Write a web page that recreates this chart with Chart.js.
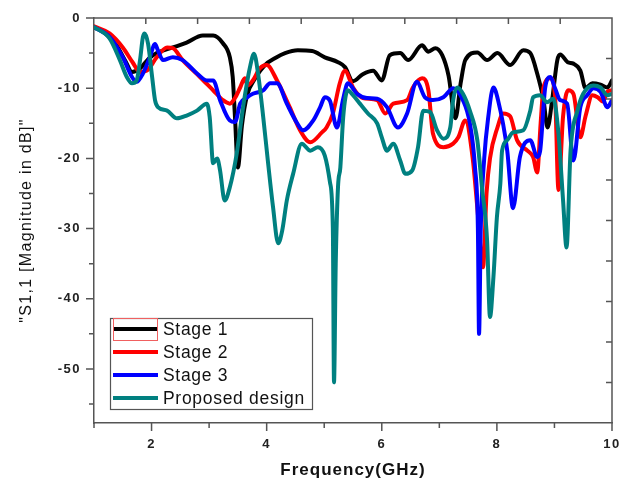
<!DOCTYPE html>
<html><head><meta charset="utf-8">
<script src="https://cdn.jsdelivr.net/npm/chart.js@4/dist/chart.umd.min.js"></script>
<style>html,body{margin:0;padding:0;background:#fff}#wrap{width:628px;height:483px}</style>
</head><body><div id="wrap"><canvas id="c" width="628" height="483"></canvas></div>
<script>
const seriesNames = ["Stage 1", "Stage 2", "Stage 3", "Proposed design"];
const seriesColors = ["#000000", "#ff0000", "#0000ff", "#008080"];

const stage1Freq = [1.0,1.2,1.4,1.55,1.66,1.8,1.95,2.09,2.37,2.61,2.89,3.07,3.24,3.36,3.41,3.45,3.50,3.57,3.66,3.80,3.97,4.15,4.32,4.54,4.79,5.01,5.24,5.36,5.50,5.67,5.85,6.00,6.14,6.32,6.46,6.70,6.81,6.93,7.05,7.16,7.28,7.37,7.45,7.66,7.83,8.01,8.23,8.46,8.58,8.70,8.81,8.88,8.96,9.05,9.10,9.23,9.33,9.45,9.54,9.66,9.80,9.92,10.0];
const stage1Mag  = [-1.3,-2.2,-4.0,-6.2,-7.7,-7.2,-5.8,-5.0,-4.2,-3.5,-2.5,-2.5,-3.6,-5.6,-8.4,-14.2,-21.3,-15.3,-11.0,-8.6,-6.7,-5.7,-5.0,-4.6,-4.7,-5.6,-6.3,-7.0,-9.0,-8.0,-7.5,-8.9,-5.3,-5.0,-6.0,-3.9,-4.8,-4.3,-5.3,-8.2,-14.3,-9.3,-6.0,-4.9,-6.0,-5.0,-6.7,-4.6,-5.0,-7.9,-11.7,-15.6,-11.7,-6.0,-5.2,-6.3,-6.5,-7.5,-10.0,-9.3,-9.5,-9.9,-8.9];

const stage2Freq = [1.0,1.27,1.5,1.67,1.8,1.92,2.09,2.27,2.37,2.54,2.84,3.07,3.24,3.36,3.45,3.54,3.62,3.67,3.76,3.88,4.0,4.18,4.4,4.58,4.76,4.96,5.04,5.15,5.27,5.36,5.50,5.67,5.92,6.06,6.20,6.44,6.54,6.70,6.81,6.89,7.07,7.24,7.33,7.45,7.58,7.66,7.76,7.82,7.88,8.01,8.11,8.23,8.35,8.53,8.63,8.70,8.76,8.81,8.93,9.01,9.07,9.15,9.24,9.33,9.45,9.54,9.66,9.75,9.84,9.92,10.0];
const stage2Mag  = [-1.2,-2.2,-4.2,-6.3,-7.7,-7.5,-5.6,-4.2,-4.3,-6.0,-8.4,-10.3,-11.7,-12.2,-11.4,-9.9,-8.6,-9.6,-8.9,-7.2,-6.7,-8.9,-12.7,-16.0,-17.7,-16.3,-15.6,-13.6,-9.3,-7.5,-9.9,-11.4,-11.7,-13.6,-12.2,-11.7,-9.9,-8.6,-10.3,-16.5,-18.4,-17.9,-17.0,-14.6,-20.0,-27.0,-35.5,-25.0,-20.0,-15.6,-13.6,-14.0,-17.4,-18.9,-19.8,-22.0,-15.0,-9.9,-8.6,-11.0,-24.5,-14.0,-10.3,-10.8,-17.0,-14.0,-11.0,-11.3,-11.9,-10.5,-10.3];

const stage3Freq = [1.0,1.27,1.5,1.66,1.74,1.85,1.97,2.06,2.11,2.2,2.37,2.54,2.79,2.96,3.07,3.19,3.36,3.45,3.54,3.66,3.76,3.94,4.06,4.18,4.35,4.53,4.63,4.81,4.93,5.01,5.10,5.22,5.33,5.41,5.57,5.74,5.92,6.09,6.28,6.44,6.61,6.75,6.89,7.07,7.24,7.41,7.53,7.62,7.67,7.69,7.72,7.78,7.85,7.94,8.02,8.18,8.28,8.40,8.58,8.70,8.75,8.84,8.93,9.01,9.10,9.22,9.33,9.45,9.57,9.68,9.80,9.92,10.0];
const stage3Mag  = [-1.3,-2.7,-5.6,-8.4,-9.1,-7.9,-5.6,-3.7,-4.6,-6.0,-5.6,-6.0,-7.9,-8.9,-8.9,-11.7,-14.6,-14.8,-12.2,-11.3,-10.8,-10.3,-9.3,-9.3,-12.2,-15.0,-16.0,-14.6,-12.7,-11.3,-11.8,-15.6,-11.5,-9.3,-10.8,-11.4,-11.5,-12.7,-15.6,-13.6,-9.1,-11.3,-11.7,-11.3,-10.0,-11.7,-15.0,-21.3,-30.0,-45.0,-30.0,-20.0,-14.1,-9.9,-11.7,-18.9,-27.1,-19.8,-17.4,-19.8,-19.0,-9.9,-8.4,-10.0,-11.7,-12.2,-20.3,-12.7,-11.0,-10.0,-10.5,-12.7,-11.7];

const proposedFreq = [1.0,1.27,1.45,1.57,1.66,1.74,1.80,1.85,1.88,1.94,2.01,2.06,2.11,2.27,2.44,2.61,2.79,2.96,3.01,3.07,3.14,3.19,3.27,3.36,3.48,3.59,3.71,3.78,3.85,3.94,4.02,4.11,4.20,4.27,4.35,4.46,4.61,4.76,4.89,5.01,5.10,5.15,5.17,5.20,5.24,5.28,5.33,5.41,5.50,5.62,5.76,5.92,6.00,6.09,6.20,6.32,6.41,6.53,6.63,6.72,6.84,6.96,7.07,7.19,7.24,7.31,7.41,7.53,7.66,7.74,7.83,7.88,7.94,8.00,8.06,8.09,8.18,8.28,8.46,8.58,8.63,8.75,8.87,8.98,9.07,9.15,9.21,9.28,9.40,9.50,9.68,9.80,9.92,10.0];
const proposedMag  = [-1.3,-2.9,-6.0,-8.4,-9.3,-8.9,-6.0,-2.7,-2.2,-3.7,-8.4,-11.7,-12.7,-13.2,-14.3,-13.9,-13.2,-12.2,-14.1,-20.7,-20.0,-21.7,-26.0,-24.1,-19.3,-12.7,-7.0,-5.1,-7.9,-14.1,-20.3,-26.9,-32.1,-30.3,-26.0,-22.2,-17.9,-18.9,-18.4,-19.6,-23.4,-30.0,-51.9,-35.0,-24.0,-21.3,-14.1,-10.3,-11.0,-12.2,-13.6,-15.0,-17.0,-18.9,-17.9,-20.3,-22.2,-21.7,-18.4,-13.2,-13.4,-16.0,-17.2,-15.6,-11.7,-9.9,-10.8,-13.2,-17.4,-24.1,-31.7,-42.6,-36.9,-28.4,-23.6,-18.9,-17.4,-16.3,-16.0,-13.2,-11.3,-11.0,-12.0,-11.5,-16.5,-26.0,-32.7,-18.9,-13.2,-10.8,-9.6,-9.9,-11.0,-10.8];

const xTickLabels = ["2", "4", "6", "8", "10"];
const yTickLabels = ["0", "-10", "-20", "-30", "-40", "-50"];
const xTitle = "Frequency(GHz)";
const yTitle = "\"S1,1 [Magnitude in dB]\"";

const freqs = [stage1Freq, stage2Freq, stage3Freq, proposedFreq];
const mags = [stage1Mag, stage2Mag, stage3Mag, proposedMag];
const toPts = (xs, ys) => xs.map((x, i) => ({x: x, y: ys[i]}));

const datasets = seriesNames.map((name, i) => ({
  label: name,
  data: toPts(freqs[i], mags[i]),
  borderColor: seriesColors[i],
  backgroundColor: seriesColors[i],
  borderWidth: 4,
  pointRadius: 0,
  fill: false,
  cubicInterpolationMode: 'monotone',
  borderJoinStyle: 'round',
  borderCapStyle: 'round',
  order: 4 - i
}));

const AXIS_COLOR = '#555';
const FONT = '"Liberation Sans", Arial, sans-serif';

function withSpacing(ctx, sp, fn) {
  ctx.save();
  ctx.letterSpacing = sp;
  fn();
  ctx.restore();
}

const spacingPlugin = {
  id: 'spacing',
  beforeDraw(chart) {
    const ctx = chart.ctx;
    [['x', '1px', '1.5px'], ['y', '1.3px', '1.5px']].forEach(([id, titleSp, tickSp]) => {
      const s = chart.scales[id];
      if (!s || s._spPatched) return;
      const dt = s.drawTitle.bind(s), dl = s.drawLabels.bind(s);
      s.drawTitle = function () { withSpacing(ctx, titleSp, dt); };
      s.drawLabels = function (a) { withSpacing(ctx, tickSp, () => dl(a)); };
      s._spPatched = true;
    });
  }
};

const framePlugin = {
  id: 'frame',
  afterDraw(chart) {
    const ctx = chart.ctx;
    const a = chart.chartArea;
    const xs = chart.scales.x, ys = chart.scales.y;
    ctx.save();
    ctx.strokeStyle = AXIS_COLOR;
    ctx.lineWidth = 1.5;
    ctx.beginPath();
    ctx.moveTo(a.left, a.top); ctx.lineTo(a.right, a.top); ctx.lineTo(a.right, a.bottom);
    ctx.stroke();
    ctx.beginPath();
    for (let v = 1; v <= 10; v++) {
      const px = xs.getPixelForValue(v);
      const len = (v % 2 === 0) ? 8 : 5;
      ctx.moveTo(px, a.bottom); ctx.lineTo(px, a.bottom + len);
    }
    for (let v = 0; v >= ys.min; v -= 5) {
      const py = ys.getPixelForValue(v);
      const len = (v % 10 === 0) ? 8 : 5;
      ctx.moveTo(a.left, py); ctx.lineTo(a.left - len, py);
    }
    for (let k = 1; k < 10; k++) {
      const px = a.left + (a.right - a.left) * k / 10;
      ctx.moveTo(px, a.top); ctx.lineTo(px, a.top + 6);
      const py = a.top + (a.bottom - a.top) * k / 10;
      ctx.moveTo(a.right, py); ctx.lineTo(a.right - 6, py);
    }
    ctx.stroke();

    const lx = 110, ly = 318, lw = 202, lh = 91;
    ctx.fillStyle = '#fff';
    ctx.fillRect(lx, ly, lw, lh);
    ctx.strokeStyle = '#555';
    ctx.lineWidth = 1.2;
    ctx.strokeRect(lx + 0.5, ly + 0.5, lw, lh);
    ctx.font = '17.5px ' + FONT;
    ctx.letterSpacing = '0.7px';
    ctx.textBaseline = 'middle';
    ctx.textAlign = 'left';
    chart.data.datasets.forEach((ds, i) => {
      const cy = 329 + i * 23;
      ctx.strokeStyle = ds.borderColor;
      ctx.lineWidth = 4;
      ctx.beginPath();
      ctx.moveTo(113, cy); ctx.lineTo(158, cy);
      ctx.stroke();
      ctx.fillStyle = '#111';
      ctx.fillText(ds.label, 163, cy + 1);
    });
    ctx.strokeStyle = '#f06060';
    ctx.lineWidth = 1;
    ctx.strokeRect(113.5, 318.5, 44, 22);
    ctx.restore();
  }
};

new Chart(document.getElementById('c'), {
  type: 'line',
  data: { datasets: datasets },
  options: {
    responsive: false,
    devicePixelRatio: 1,
    animation: false,
    layout: { padding: { left: 0, top: 18, right: 16, bottom: 0 } },
    plugins: { legend: { display: false }, tooltip: { enabled: false } },
    scales: {
      x: {
        type: 'linear', min: 1, max: 10,
        afterFit: s => { s.height = 60; s.paddingLeft = 0; s.paddingRight = 0; },
        ticks: {
          stepSize: 1, autoSkip: false, maxRotation: 0, padding: 14,
          color: '#222', font: { family: FONT, size: 13, weight: 'bold' },
          callback: v => xTickLabels.includes(String(v)) ? String(v) : ''
        },
        grid: { display: false, drawTicks: false },
        border: { display: true, color: AXIS_COLOR, width: 1.5 },
        title: { display: true, text: xTitle, color: '#111',
          font: { family: FONT, size: 17, weight: 'bold' },
          padding: { top: 0, bottom: 2 } }
      },
      y: {
        type: 'linear', min: -57.7, max: 0,
        afterFit: s => { s.width = 94; s.paddingTop = 0; s.paddingBottom = 0; },
        ticks: {
          stepSize: 5, includeBounds: false, padding: 13,
          color: '#222', font: { family: FONT, size: 13, weight: 'bold' },
          callback: v => yTickLabels.includes(String(v)) ? String(v) : ''
        },
        grid: { display: false, drawTicks: false },
        border: { display: true, color: AXIS_COLOR, width: 1.5 },
        title: { display: true, text: yTitle, color: '#111',
          font: { family: FONT, size: 16 },
          padding: { top: 17, bottom: 0 } }
      }
    }
  },
  plugins: [spacingPlugin, framePlugin]
});
</script>
</body></html>
